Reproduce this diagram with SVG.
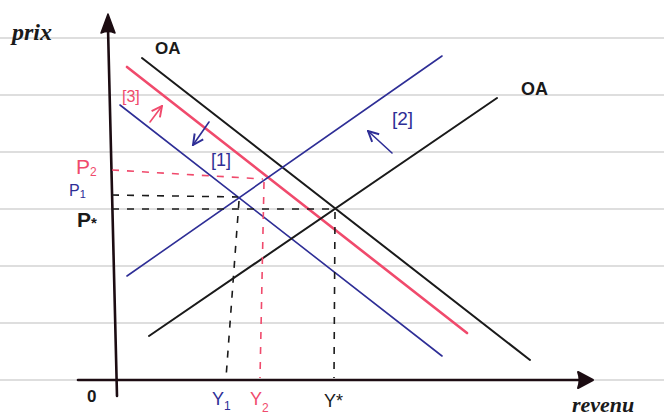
<svg xmlns="http://www.w3.org/2000/svg" width="664" height="417" viewBox="0 0 664 417">
<style>
.rule{stroke:#bdbdbd;stroke-width:1.2;fill:none}
.axis{stroke:#1c0c12;stroke-width:2.6;fill:none;stroke-linecap:round}
.blk{stroke:#1a1a1a;stroke-width:2;fill:none;stroke-linecap:round}
.blu{stroke:#2e2e96;stroke-width:1.6;fill:none;stroke-linecap:round}
.red{stroke:#f04a6c;stroke-width:2.6;fill:none;stroke-linecap:round}
.dblk{stroke:#1a1a1a;stroke-width:1.6;fill:none;stroke-dasharray:7 8}
.dred{stroke:#f04a6c;stroke-width:1.6;fill:none;stroke-dasharray:7 8}
.t{font-family:"Liberation Sans",Arial,sans-serif}
.b{font-weight:bold}
.hw{font-family:"Liberation Serif","Times New Roman",serif;font-style:italic;font-weight:bold}
.cb{fill:#1a1a1a}.cu{fill:#2e2e96}.cr{fill:#f04a6c}
</style>
<defs>
<marker id="hb" viewBox="0 0 10 10" refX="9" refY="5" markerWidth="13" markerHeight="13" markerUnits="userSpaceOnUse" orient="auto">
<polyline points="1,1 9,5 1,9" fill="none" stroke="#2e2e96" stroke-width="1.5"/>
</marker>
<marker id="hr" viewBox="0 0 10 10" refX="9" refY="5" markerWidth="13" markerHeight="13" markerUnits="userSpaceOnUse" orient="auto">
<polyline points="1,1 9,5 1,9" fill="none" stroke="#f04a6c" stroke-width="1.5"/>
</marker>
</defs>
<rect width="664" height="417" fill="#ffffff"/>
<g id="ruled">
<line class="rule" x1="0" y1="38" x2="664" y2="38"/>
<line class="rule" x1="0" y1="95" x2="664" y2="95"/>
<line class="rule" x1="0" y1="152" x2="664" y2="152"/>
<line class="rule" x1="0" y1="209" x2="664" y2="209"/>
<line class="rule" x1="0" y1="266" x2="664" y2="266"/>
<line class="rule" x1="0" y1="323" x2="664" y2="323"/>
<line class="rule" x1="0" y1="380" x2="664" y2="380"/>
</g>
<g id="axes">
<line class="axis" x1="108" y1="28" x2="117" y2="396"/>
<path d="M108,14 L101,33 Q108,30 115,33 Z" fill="#1c0c12" stroke="#1c0c12" stroke-width="1.5" stroke-linejoin="round"/>
<line class="axis" x1="78" y1="380" x2="582" y2="380"/>
<path d="M593,380 L578,372 Q581,380 578,388 Z" fill="#1c0c12" stroke="#1c0c12" stroke-width="2" stroke-linejoin="round"/>
</g>
<g id="curves">
<line id="oa-demand" class="blk" x1="142" y1="58" x2="530" y2="360"/>
<line id="red-demand" class="red" x1="127" y1="67" x2="467" y2="333"/>
<line id="blue-demand" class="blu" x1="120" y1="105" x2="442" y2="356"/>
<line id="blue-supply" class="blu" x1="127" y1="276" x2="442" y2="56"/>
<line id="oa-supply" class="blk" x1="149" y1="336" x2="497" y2="98"/>
</g>
<g id="guides">
<line class="dred" x1="112" y1="170" x2="263" y2="179"/>
<line class="dblk" x1="112" y1="195" x2="238" y2="197"/>
<line class="dblk" x1="112" y1="209" x2="334" y2="209"/>
<line class="dblk" x1="239" y1="201" x2="226" y2="378"/>
<line class="dred" x1="264" y1="182" x2="260" y2="378"/>
<line class="dblk" x1="335" y1="212" x2="334" y2="378"/>
</g>
<g id="shifts">
<line class="red" style="stroke-width:1.6" x1="150" y1="122" x2="162" y2="106" marker-end="url(#hr)"/>
<line class="blu" x1="209" y1="122" x2="193" y2="145" marker-end="url(#hb)"/>
<line class="blu" x1="392" y1="153" x2="368" y2="131" marker-end="url(#hb)"/>
</g>
<g id="labels">
<text class="hw cb" x="12" y="40" font-size="24">prix</text>
<text class="t b cb" x="155" y="54" font-size="17">OA</text>
<text class="t b cb" x="521" y="95" font-size="18">OA</text>
<text class="t cr" x="122" y="102" font-size="16">[3]</text>
<text class="t cu" x="211" y="166" font-size="18">[1]</text>
<text class="t cu" x="392" y="125" font-size="19">[2]</text>
<text class="t cr" x="76" y="174" font-size="21">P<tspan font-size="12" dy="2">2</tspan></text>
<text class="t cu" x="69" y="196" font-size="16">P<tspan font-size="11" dy="2">1</tspan></text>
<text class="t b cb" x="77" y="227" font-size="21">P<tspan font-size="15" dy="1">*</tspan></text>
<text class="t b cb" x="87" y="402" font-size="17">0</text>
<text class="t cu" x="212" y="405" font-size="18">Y<tspan font-size="12" dy="5">1</tspan></text>
<text class="t cr" x="250" y="405" font-size="18">Y<tspan font-size="12" dy="7">2</tspan></text>
<text class="t cb" x="324" y="407" font-size="18">Y*</text>
<text class="hw cb" x="572" y="412" font-size="22">revenu</text>
</g>
</svg>
